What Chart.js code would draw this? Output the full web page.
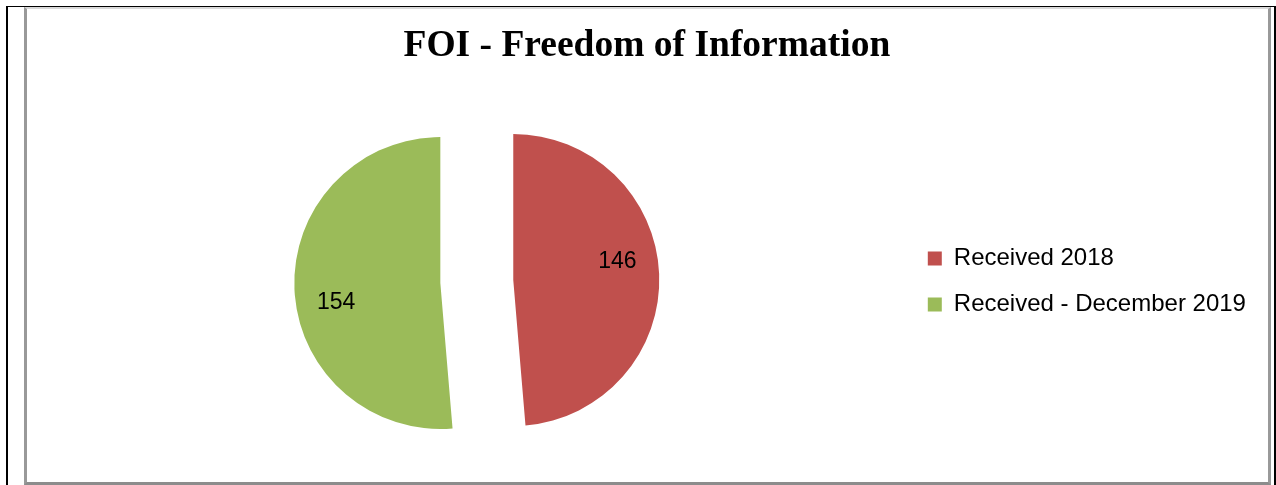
<!DOCTYPE html>
<html>
<head>
<meta charset="utf-8">
<script src="https://cdn.jsdelivr.net/npm/chart.js@4/dist/chart.umd.min.js"></script>
<style>
  html, body { margin: 0; padding: 0; background: #fff; }
  body { width: 1276px; height: 485px; position: relative; overflow: hidden; }
  .blk { position: absolute; background: #000; }
  #frame {
    position: absolute; left: 24px; top: 7px; width: 1241px; height: 473px;
    border-left: 3px solid #999; border-right: 3px solid #999;
    border-bottom: 3px solid #8c8c8c; border-top: 2px solid #d9d9d9;
  }
  #frame canvas { display: block; }
</style>
</head>
<body>
<div class="blk" style="left:6px;top:6px;width:2px;height:479px"></div>
<div class="blk" style="left:6px;top:6px;width:1269px;height:1px"></div>
<div class="blk" style="left:1274px;top:6px;width:2px;height:479px"></div>
<div id="frame"><canvas id="myChart" width="1241" height="473"></canvas></div>
<script>
const labels = ['Received 2018', 'Received - December 2019'];
const counts = [146, 154];
const colours = ['#C0504D', '#9BBB59'];
const chartTitle = 'FOI - Freedom of Information';

const sansFont = "'Liberation Sans', Arial, sans-serif";
const explode = 36.5;

// pull each slice out along its bisector, then write the value inside it
const explodePie = {
    id: 'explodePie',
    beforeDatasetDraw(chart, args) {
        const ctx = chart.ctx;
        args.meta.data.forEach(arc => {
            const mid = (arc.startAngle + arc.endAngle) / 2;
            ctx.save();
            ctx.translate(Math.cos(mid) * explode, Math.sin(mid) * explode);
            arc.draw(ctx);
            ctx.restore();
        });
        return false;
    },
    afterDatasetsDraw(chart) {
        const ctx = chart.ctx;
        const meta = chart.getDatasetMeta(0);
        const data = chart.data.datasets[0].data;
        ctx.save();
        ctx.font = '23px ' + sansFont;
        ctx.fillStyle = '#000';
        ctx.textAlign = 'center';
        ctx.textBaseline = 'middle';
        meta.data.forEach((arc, i) => {
            const mid = (arc.startAngle + arc.endAngle) / 2;
            const cx = arc.x + Math.cos(mid) * explode;
            const cy = arc.y + Math.sin(mid) * explode;
            const a = mid - 8 * Math.PI / 180;
            const r = arc.outerRadius * 0.725;
            ctx.fillText(String(data[i]), cx + Math.cos(a) * r, cy + Math.sin(a) * r + 1);
        });
        ctx.restore();
    }
};

const ctx = document.getElementById('myChart').getContext('2d');
const myChart = new Chart(ctx, {
    type: 'pie',
    data: {
        labels: labels,
        datasets: [{
            data: counts,
            backgroundColor: colours,
            borderWidth: 0,
            radius: 146
        }]
    },
    options: {
        responsive: false,
        animation: false,
        layout: { padding: { left: 20.8, right: 22, top: 0, bottom: 0 } },
        plugins: {
            title: {
                display: true,
                text: chartTitle,
                color: '#000',
                font: { family: "'Liberation Serif', 'Times New Roman', serif", size: 37.5, weight: 'bold' },
                padding: { top: 15, bottom: 12 }
            },
            legend: {
                position: 'right',
                fullSize: false,
                maxWidth: 340.2,
                labels: {
                    boxWidth: 14,
                    boxHeight: 14,
                    padding: 22,
                    color: '#000',
                    font: { family: sansFont, size: 24 }
                }
            },
            tooltip: { enabled: false }
        }
    },
    plugins: [explodePie]
});
</script>
</body>
</html>
